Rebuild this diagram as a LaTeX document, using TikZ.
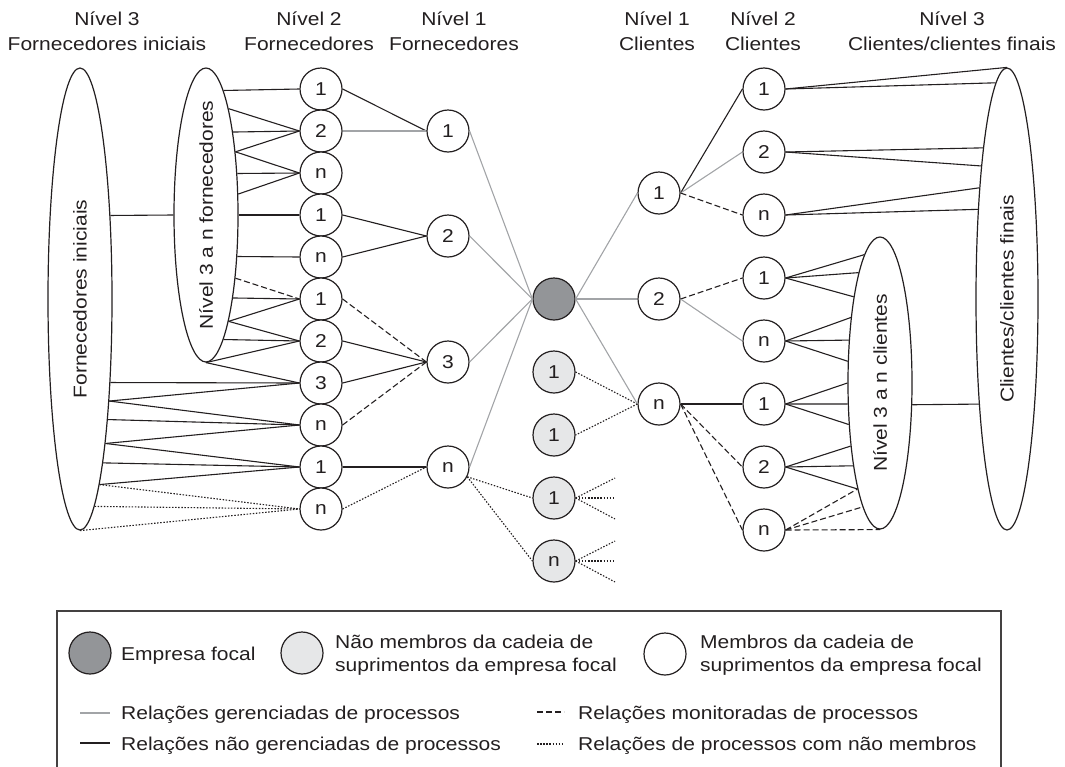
\documentclass[tikz,border=0pt]{standalone}
\usepackage{fontspec}
\setmainfont{Liberation Sans}[FakeStretch=1.13]
\usetikzlibrary{shapes.geometric}
\definecolor{ink}{HTML}{231F20}
\definecolor{managedgray}{HTML}{A2A4A7}
\definecolor{focalfill}{HTML}{939598}
\definecolor{outsiderfill}{HTML}{E6E7E8}
\begin{document}
\begin{tikzpicture}[x=1pt, y=-1pt,
  font=\fontsize{18.6}{22}\selectfont, text=ink,
  member/.style={circle, draw=ink, line width=1.2pt, fill=white, minimum size=42pt, inner sep=0pt},
  focalco/.style={member, fill=focalfill},
  outsider/.style={member, fill=outsiderfill},
  group/.style={ellipse, draw=ink, line width=1.2pt, inner sep=0pt},
  grouptext/.style={rotate=90, inner sep=0pt},
  headtext/.style={inner sep=0pt, anchor=base},
  legendtext/.style={inner sep=0pt, anchor=base west},
  managedrel/.style={draw=managedgray, line width=1.1pt},
  plainrel/.style={draw=ink, line width=1.1pt},
  monitorrel/.style={plainrel, dash pattern=on 6pt off 3pt},
  outsiderrel/.style={plainrel, dash pattern=on 1.5pt off 1.6pt},
]
\useasboundingbox (0,0) rectangle (1065,766);

% ---------- column headings ----------
\node[headtext] (h1a) at (107,25) {Nível 3};
\node[headtext] (h1b) at (107,50) {Fornecedores iniciais};
\node[headtext] (h2a) at (309,25) {Nível 2};
\node[headtext] (h2b) at (309,50) {Fornecedores};
\node[headtext] (h3a) at (454,25) {Nível 1};
\node[headtext] (h3b) at (454,50) {Fornecedores};
\node[headtext] (h4a) at (657,25) {Nível 1};
\node[headtext] (h4b) at (657,50) {Clientes};
\node[headtext] (h5a) at (763,25) {Nível 2};
\node[headtext] (h5b) at (763,50) {Clientes};
\node[headtext] (h6a) at (952,25) {Nível 3};
\node[headtext] (h6b) at (952,50) {Clientes/clientes finais};

% ---------- grouped tiers (ellipses) ----------
\node[group, minimum width=64pt, minimum height=462pt] (fi) at (80,299) {};
\node[grouptext] (fitxt) at (fi.center) {Fornecedores iniciais};
\node[group, minimum width=64pt, minimum height=294pt] (nf) at (206,215) {};
\node[grouptext] (nftxt) at (nf.center) {Nível 3 a n fornecedores};
\node[group, minimum width=64pt, minimum height=292pt] (nc) at (880,383) {};
\node[grouptext] (nctxt) at (nc.center) {Nível 3 a n clientes};
\node[group, minimum width=62pt, minimum height=462pt] (cf) at (1007,299) {};
\node[grouptext] (cftxt) at (cf.center) {Clientes/clientes finais};

% ---------- tier 2 suppliers ----------
\node[member] (s2a) at (321,89)  {1};
\node[member] (s2b) at (321,131) {2};
\node[member] (s2c) at (321,173) {n};
\node[member] (s2d) at (321,215) {1};
\node[member] (s2e) at (321,257) {n};
\node[member] (s2f) at (321,299) {1};
\node[member] (s2g) at (321,341) {2};
\node[member] (s2h) at (321,383) {3};
\node[member] (s2i) at (321,425) {n};
\node[member] (s2j) at (321,467) {1};
\node[member] (s2k) at (321,509) {n};

% ---------- tier 1 suppliers ----------
\node[member] (s1a) at (448,131) {1};
\node[member] (s1b) at (448,236) {2};
\node[member] (s1c) at (448,362) {3};
\node[member] (s1d) at (448,467) {n};

% ---------- focal company and non-members ----------
\node[focalco] (fc) at (554,299) {};
\node[outsider] (g1) at (554,372) {1};
\node[outsider] (g2) at (554,435) {1};
\node[outsider] (g3) at (554,498) {1};
\node[outsider] (g4) at (554,561) {n};

% ---------- tier 1 customers ----------
\node[member] (c1a) at (659,193) {1};
\node[member] (c1b) at (659,299) {2};
\node[member] (c1c) at (659,404) {n};

% ---------- tier 2 customers ----------
\node[member] (c2a) at (764,89)  {1};
\node[member] (c2b) at (764,152) {2};
\node[member] (c2c) at (764,215) {n};
\node[member] (c2d) at (764,278) {1};
\node[member] (c2e) at (764,341) {n};
\node[member] (c2f) at (764,404) {1};
\node[member] (c2g) at (764,467) {2};
\node[member] (c2h) at (764,530) {n};

% ---------- initial suppliers -> tier 3..n suppliers ----------
\draw[plainrel] (fi.70.46) -- (nf.west);

% ---------- tier 3..n suppliers -> tier 2 suppliers ----------
\draw[plainrel] (nf.82.5) -- (s2a.west);
\draw[plainrel] (nf.78) -- (s2b.west);
\draw[plainrel] (nf.72.6) -- (s2b.west);
\draw[plainrel] (nf.65.4) -- (s2b.west);
\draw[plainrel] (nf.65.4) -- (s2c.west);
\draw[plainrel] (nf.53.9) -- (s2c.west);
\draw[plainrel] (nf.33.5) -- (s2c.west);
\draw[plainrel] (nf.east) -- (s2d.west);
\draw[plainrel] (nf.-53.9) -- (s2e.west);
\draw[monitorrel] (nf.-65.4) -- (s2f.west);
\draw[plainrel] (nf.-72.6) -- (s2f.west);
\draw[plainrel] (nf.-78) -- (s2f.west);
\draw[plainrel] (nf.-78) -- (s2g.west);
\draw[plainrel] (nf.-82.5) -- (s2g.west);
\draw[plainrel] (nf.south) -- (s2g.west);
\draw[plainrel] (nf.south) -- (s2h.west);

% ---------- initial suppliers -> tier 2 suppliers ----------
\draw[plainrel] (fi.-70.46) -- (s2h.west);
\draw[plainrel] (fi.-74.81) -- (s2h.west);
\draw[plainrel] (fi.-74.81) -- (s2i.west);
\draw[plainrel] (fi.-77.98) -- (s2i.west);
\draw[plainrel] (fi.-80.47) -- (s2i.west);
\draw[plainrel] (fi.-80.47) -- (s2j.west);
\draw[plainrel] (fi.-82.55) -- (s2j.west);
\draw[plainrel] (fi.-84.44) -- (s2j.west);
\draw[outsiderrel] (fi.-84.44) -- (s2k.west);
\draw[outsiderrel] (fi.-86.37) -- (s2k.west);
\draw[outsiderrel] (fi.south) -- (s2k.west);

% ---------- tier 2 -> tier 1 suppliers ----------
\draw[plainrel] (s2a.east) -- (s1a.west);
\draw[managedrel] (s2b.east) -- (s1a.west);
\draw[plainrel] (s2d.east) -- (s1b.west);
\draw[plainrel] (s2e.east) -- (s1b.west);
\draw[monitorrel] (s2f.east) -- (s1c.west);
\draw[plainrel] (s2g.east) -- (s1c.west);
\draw[plainrel] (s2h.east) -- (s1c.west);
\draw[monitorrel] (s2i.east) -- (s1c.west);
\draw[plainrel] (s2j.east) -- (s1d.west);
\draw[outsiderrel] (s2k.east) -- (s1d.west);

% ---------- tier 1 suppliers -> focal company ----------
\draw[managedrel] (s1a.east) -- (fc.west);
\draw[managedrel] (s1b.east) -- (fc.west);
\draw[managedrel] (s1c.east) -- (fc.west);
\draw[managedrel] (s1d.east) -- (fc.west);

% ---------- links with non-members ----------
\draw[outsiderrel] (s1d.-27) -- (g3.west);
\draw[outsiderrel] (s1d.-27) -- (g4.west);
\draw[outsiderrel] (c1c.west) -- (g1.east);
\draw[outsiderrel] (c1c.west) -- (g2.east);
\coordinate (g3a) at (615,478);
\coordinate (g3b) at (615,498);
\coordinate (g3c) at (615,519);
\coordinate (g4a) at (615,541);
\coordinate (g4b) at (615,561);
\coordinate (g4c) at (615,582);
\draw[outsiderrel] (g3.east) -- (g3a);
\draw[outsiderrel] (g3.east) -- (g3b);
\draw[outsiderrel] (g3.east) -- (g3c);
\draw[outsiderrel] (g4.east) -- (g4a);
\draw[outsiderrel] (g4.east) -- (g4b);
\draw[outsiderrel] (g4.east) -- (g4c);

% ---------- focal company -> tier 1 customers ----------
\draw[managedrel] (fc.east) -- (c1a.west);
\draw[managedrel] (fc.east) -- (c1b.west);
\draw[managedrel] (fc.east) -- (c1c.west);

% ---------- tier 1 -> tier 2 customers ----------
\draw[plainrel] (c1a.east) -- (c2a.west);
\draw[managedrel] (c1a.east) -- (c2b.west);
\draw[monitorrel] (c1a.east) -- (c2c.west);
\draw[monitorrel] (c1b.east) -- (c2d.west);
\draw[managedrel] (c1b.east) -- (c2e.west);
\draw[plainrel] (c1c.east) -- (c2f.west);
\draw[monitorrel] (c1c.east) -- (c2g.west);
\draw[monitorrel] (c1c.east) -- (c2h.west);

% ---------- tier 2 customers -> end customers ----------
\draw[plainrel] (c2a.east) -- (cf.north);
\draw[plainrel] (c2a.east) -- (cf.93.52);
\draw[plainrel] (c2b.east) -- (cf.99.24);
\draw[plainrel] (c2b.east) -- (cf.101.52);
\draw[plainrel] (c2c.east) -- (cf.104.56);
\draw[plainrel] (c2c.east) -- (cf.108.97);

% ---------- tier 2 customers -> tier 3..n customers ----------
\draw[plainrel] (c2d.east) -- (nc.97.31);
\draw[plainrel] (c2d.east) -- (nc.101.95);
\draw[plainrel] (c2d.east) -- (nc.107.3);
\draw[plainrel] (c2e.east) -- (nc.114.62);
\draw[plainrel] (c2e.east) -- (nc.126.12);
\draw[plainrel] (c2e.east) -- (nc.146.45);
\draw[plainrel] (c2f.east) -- (nc.west);
\draw[plainrel] (c2f.east) -- (nc.213.55);
\draw[plainrel] (c2f.east) -- (nc.233.88);
\draw[plainrel] (c2g.east) -- (nc.245.38);
\draw[plainrel] (c2g.east) -- (nc.252.7);
\draw[plainrel] (c2g.east) -- (nc.258.05);
\draw[monitorrel] (c2h.east) -- (nc.258.05);
\draw[monitorrel] (c2h.east) -- (nc.262.69);
\draw[monitorrel] (c2h.east) -- (nc.south);
\draw[plainrel] (nc.326.45) -- (cf.255.27);

% ---------- legend ----------
\draw[draw=ink!85, line width=1.2pt] (57,611) rectangle (1001,770);
\node[focalco] (lfocal) at (90,653) {};
\node[legendtext] (lfocaltxt) at (121,660.5) {Empresa focal};
\node[outsider] (lout) at (302,653) {};
\node[legendtext] (louta) at (335,648) {Não membros da cadeia de};
\node[legendtext] (loutb) at (335,671) {suprimentos da empresa focal};
\node[member] (lmem) at (665,654) {};
\node[legendtext] (lmema) at (700,648) {Membros da cadeia de};
\node[legendtext] (lmemb) at (700,671) {suprimentos da empresa focal};

\coordinate (lga) at (80,713);  \coordinate (lgb) at (110,713);
\coordinate (lpa) at (80,743);  \coordinate (lpb) at (110,743);
\coordinate (lma) at (537,712); \coordinate (lmb) at (564,712);
\coordinate (loa) at (537,744); \coordinate (lob) at (563,744);
\draw[managedrel] (lga) -- (lgb);
\draw[plainrel] (lpa) -- (lpb);
\draw[monitorrel] (lma) -- (lmb);
\draw[outsiderrel] (loa) -- (lob);
\node[legendtext] (lgtxt) at (121,719) {Relações gerenciadas de processos};
\node[legendtext] (lptxt) at (121,750) {Relações não gerenciadas de processos};
\node[legendtext] (lmtxt) at (578,719) {Relações monitoradas de processos};
\node[legendtext] (lotxt) at (578,750) {Relações de processos com não membros};
\end{tikzpicture}
\end{document}
